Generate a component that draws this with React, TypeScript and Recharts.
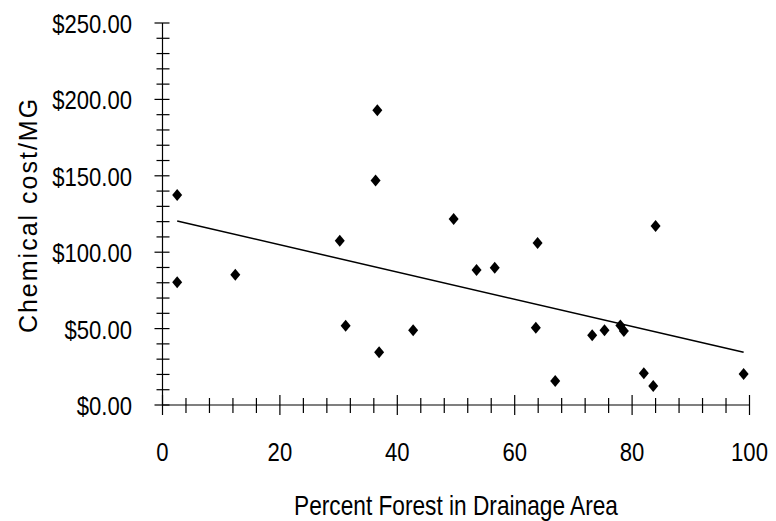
import { ScatterChart, Scatter, XAxis, YAxis, Label } from "recharts";

// percent forest in drainage area, per water system
const forestPct = [
  2.5, 2.5, 12.4, 30.2, 31.2, 36.3, 36.6, 36.9, 42.7, 49.6, 53.5, 56.6,
  63.6, 63.9, 66.9, 73.2, 75.3, 78.0, 78.6, 82.0, 83.6, 84.0, 99.0,
];
// chemical cost per million gallons ($)
const costPerMG = [
  137.4, 80.3, 85.3, 107.5, 51.9, 147.0, 192.9, 34.5, 49.0, 121.7, 88.3, 89.9,
  50.6, 106.0, 15.7, 45.6, 48.9, 52.1, 48.4, 20.7, 12.4, 117.1, 20.3,
];

// linear trend line ends
const trendX = [2.5, 99];
const trendY = [120.4, 34.5];

const xTicks = [
  0, 4, 8, 12, 16, 20, 24, 28, 32, 36, 40, 44, 48, 52, 56, 60, 64, 68, 72, 76,
  80, 84, 88, 92, 96, 100,
];
const yTicks = [
  0, 10, 20, 30, 40, 50, 60, 70, 80, 90, 100, 110, 120, 130, 140, 150, 160,
  170, 180, 190, 200, 210, 220, 230, 240, 250,
];

const FONT = "'Liberation Sans', Arial, sans-serif";

const points = forestPct.map((x, i) => ({ x, y: costPerMG[i] }));
const trend = trendX.map((x, i) => ({ x, y: trendY[i] }));

const Diamond = (props: any) => {
  const { cx, cy } = props;
  if (cx == null || cy == null) return <g />;
  return (
    <path
      d={`M${cx},${cy - 6} L${cx + 5},${cy} L${cx},${cy + 6} L${cx - 5},${cy} Z`}
      fill="#000"
    />
  );
};

const XTick = (props: any) => {
  const { x, y, payload } = props;
  const major = payload.value % 20 === 0;
  return (
    <g>
      <line
        x1={x}
        x2={x}
        y1={major ? y - 10 : y - 7}
        y2={major ? y + 10 : y + 8}
        stroke="#000"
        strokeWidth={1.2}
      />
      {major && (
        <text
          transform={`translate(${x},${y + 56}) scale(0.85,1)`}
          textAnchor="middle"
          fontFamily={FONT}
          fontSize={26}
          fill="#000"
        >
          {payload.value}
        </text>
      )}
    </g>
  );
};

const YTick = (props: any) => {
  const { x, y, payload } = props;
  const major = payload.value % 50 === 0;
  return (
    <g>
      <line
        x1={major ? x - 8 : x - 6}
        x2={x + 7}
        y1={y}
        y2={y}
        stroke="#000"
        strokeWidth={1.2}
      />
      {major && (
        <text
          transform={`translate(${x - 30.5},${y + 10}) scale(0.85,1)`}
          textAnchor="end"
          fontFamily={FONT}
          fontSize={26}
          fill="#000"
        >
          {"$" + payload.value.toFixed(2)}
        </text>
      )}
    </g>
  );
};

const App = () => {
  return (
    <div style={{ position: "absolute", left: 0, top: 0, background: "#fff" }}>
      <ScatterChart
        width={776}
        height={521}
        margin={{ top: 23, right: 26.5, bottom: 0, left: 0 }}
      >
        <XAxis
          type="number"
          dataKey="x"
          domain={[0, 100]}
          ticks={xTicks}
          interval={0}
          tickSize={0}
          tickMargin={0}
          tick={<XTick />}
          height={116}
          axisLine={{ stroke: "#000", strokeWidth: 1.2 }}
        >
          <Label
            content={(p: any) => {
              const vb = p.viewBox;
              return (
                <text
                  transform={`translate(${vb.x + vb.width / 2},${vb.y + 110}) scale(0.84,1)`}
                  textAnchor="middle"
                  fontFamily={FONT}
                  fontSize={27}
                  fill="#000"
                >
                  Percent Forest in Drainage Area
                </text>
              );
            }}
          />
        </XAxis>
        <YAxis
          type="number"
          dataKey="y"
          domain={[0, 250]}
          ticks={yTicks}
          interval={0}
          tickSize={0}
          tickMargin={0}
          tick={<YTick />}
          width={162.5}
          axisLine={{ stroke: "#000", strokeWidth: 1.2 }}
        >
          <Label
            content={(p: any) => {
              const vb = p.viewBox;
              return (
                <text
                  transform={`translate(37,${vb.y + vb.height / 2 + 1}) rotate(-90)`}
                  textAnchor="middle"
                  fontFamily={FONT}
                  fontSize={25}
                  letterSpacing={2}
                  fill="#000"
                >
                  Chemical cost/MG
                </text>
              );
            }}
          />
        </YAxis>
        <Scatter
          data={trend}
          line={{ stroke: "#000", strokeWidth: 1.5 }}
          shape={() => <g />}
          isAnimationActive={false}
        />
        <Scatter
          data={points}
          shape={<Diamond />}
          fill="#000"
          isAnimationActive={false}
        />
      </ScatterChart>
    </div>
  );
};

export default App;
